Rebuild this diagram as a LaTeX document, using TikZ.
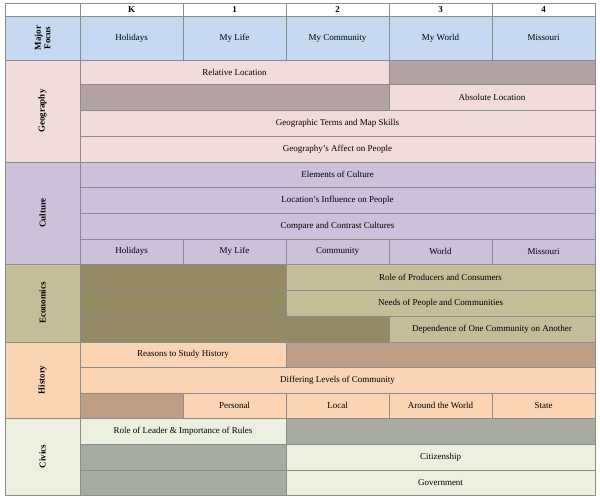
\documentclass[tikz,border=0pt]{standalone}
\usepackage{fontspec}
\setmainfont{Liberation Serif}
\definecolor{focusblue}{HTML}{C6D9F1}
\definecolor{geopink}{HTML}{F2DCDB}
\definecolor{geodark}{HTML}{B3A2A2}
\definecolor{culture}{HTML}{CCC0DA}
\definecolor{econ}{HTML}{C4BD97}
\definecolor{econdark}{HTML}{948A64}
\definecolor{hist}{HTML}{FBD4B4}
\definecolor{histdark}{HTML}{BF9E88}
\definecolor{civics}{HTML}{EBF1DE}
\definecolor{civdark}{HTML}{A6ADA0}
\definecolor{rule}{HTML}{8C8C8C}
% one cell of the table: x1,y1,x2,y2,fill,text
\newcommand{\cell}[6]{%
  \filldraw[fill=#5, draw=rule, line width=0.8pt] (#1,#2) rectangle (#3,#4);
  \node[font=\fontsize{9}{10}\selectfont] at ({(#1+#3)/2},{(#2+#4)/2}) {#6};}
\newcommand{\rowhead}[4]{%
  \filldraw[fill=#3, draw=rule, line width=0.8pt] (5,#1) rectangle (80,#2);
  \node[rotate=90, align=center, font=\fontsize{9}{9.5}\selectfont\bfseries] at (42.5,{(#1+#2)/2}) {#4};}
\begin{document}
\begin{tikzpicture}[x=1pt, y=-1pt]
	\useasboundingbox (0,0) rectangle (600,500);
	% header
	\cell{5}{3}{80}{16}{white}{}
	\foreach \g [count=\i from 0] in {K,1,2,3,4}
		\filldraw[fill=white, draw=rule, line width=0.8pt] ({80+103*\i},3) rectangle ({183+103*\i},16)
			node[midway, font=\fontsize{9}{10}\selectfont\bfseries] {\g};
	% major focus
	\rowhead{16}{60}{focusblue}{Major\\Focus}
	\foreach \t [count=\i from 0] in {Holidays,My Life,My Community,My World,Missouri}
		\filldraw[fill=focusblue, draw=rule, line width=0.8pt] ({80+103*\i},16) rectangle ({183+103*\i},60)
			node[midway, font=\fontsize{9}{10}\selectfont] {\t};
	% geography
	\rowhead{60}{162}{geopink}{Geography}
	\cell{80}{60}{389}{84}{geopink}{Relative Location}
	\cell{389}{60}{595}{84}{geodark}{}
	\cell{80}{84}{389}{110}{geodark}{}
	\cell{389}{84}{595}{110}{geopink}{Absolute Location}
	\cell{80}{110}{595}{136}{geopink}{Geographic Terms and Map Skills}
	\cell{80}{136}{595}{162}{geopink}{Geography’s Affect on People}
	% culture
	\rowhead{162}{264}{culture}{Culture}
	\cell{80}{162}{595}{187}{culture}{Elements of Culture}
	\cell{80}{187}{595}{213}{culture}{Location’s Influence on People}
	\cell{80}{213}{595}{239}{culture}{Compare and Contrast Cultures}
	\foreach \t [count=\i from 0] in {Holidays,My Life,Community,World,Missouri}
		\filldraw[fill=culture, draw=rule, line width=0.8pt] ({80+103*\i},239) rectangle ({183+103*\i},264)
			node[midway, font=\fontsize{9}{10}\selectfont] {\t};
	% economics
	\rowhead{264}{342}{econ}{Economics}
	\cell{80}{264}{286}{290}{econdark}{}
	\cell{286}{264}{595}{290}{econ}{Role of Producers and Consumers}
	\cell{80}{290}{286}{316}{econdark}{}
	\cell{286}{290}{595}{316}{econ}{Needs of People and Communities}
	\cell{80}{316}{389}{342}{econdark}{}
	\cell{389}{316}{595}{342}{econ}{Dependence of One Community on Another}
	% history
	\rowhead{342}{418}{hist}{History}
	\cell{80}{342}{286}{367}{hist}{Reasons to Study History}
	\cell{286}{342}{595}{367}{histdark}{}
	\cell{80}{367}{595}{393}{hist}{Differing Levels of Community}
	\cell{80}{393}{183}{418}{histdark}{}
	\foreach \t [count=\i from 1] in {Personal,Local,Around the World,State}
		\filldraw[fill=hist, draw=rule, line width=0.8pt] ({80+103*\i},393) rectangle ({183+103*\i},418)
			node[midway, font=\fontsize{9}{10}\selectfont] {\t};
	% civics
	\rowhead{418}{495}{civics}{Civics}
	\cell{80}{418}{286}{444}{civics}{Role of Leader \& Importance of Rules}
	\cell{286}{418}{595}{444}{civdark}{}
	\cell{80}{444}{286}{470}{civdark}{}
	\cell{286}{444}{595}{470}{civics}{Citizenship}
	\cell{80}{470}{286}{495}{civdark}{}
	\cell{286}{470}{595}{495}{civics}{Government}
\end{tikzpicture}
\end{document}
